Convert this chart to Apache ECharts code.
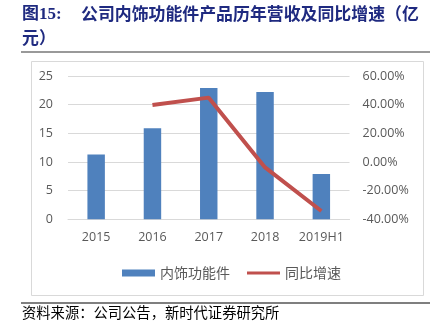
<!DOCTYPE html>
<html>
<head>
<meta charset="utf-8">
<style>
  html, body { margin: 0; padding: 0; background: #ffffff; }
  #chart { width: 435px; height: 336px; }
</style>
<script src="https://cdn.jsdelivr.net/npm/echarts@6/dist/echarts.min.js"></script>
</head>
<body>
<div id="chart"></div>
<script>
// Categories and values
var years = ['2015', '2016', '2017', '2018', '2019H1'];
var revenue = [11.3, 15.9, 22.9, 22.2, 7.9];          // 内饰功能件 营收（亿元）
var growth = [null, 39.8, 44.9, -3.8, -34.2];          // 同比增速（%）
var leftTicks = { min: 0, max: 25, interval: 5 };
var rightTicks = { min: -40, max: 60, interval: 20 };

var CJK = '"Noto Sans CJK SC", sans-serif';
var TICK_FONT = '"Open Sans", "Liberation Sans", sans-serif';

var chart = echarts.init(document.getElementById('chart'), null, { renderer: 'canvas' });

chart.setOption({
  animation: false,
  backgroundColor: '#ffffff',
  graphic: [
    // chart frame
    { type: 'rect', left: 29, top: 59, shape: { x: 0, y: 0, width: 392, height: 234 },
      style: { fill: 'none', stroke: '#d9d9d9', lineWidth: 1 }, z: -1 },
    // rule under the title
    { type: 'line', shape: { x1: 21, y1: 52, x2: 430, y2: 52 },
      style: { stroke: '#777777', lineWidth: 1.5 } },
    // rule above the source note
    { type: 'line', shape: { x1: 21, y1: 303, x2: 430, y2: 303 },
      style: { stroke: '#000000', lineWidth: 1.2 } },
    // title
    { type: 'text', left: 22, top: 6,
      style: { text: '图15:', fill: '#1F2A80',
        font: 'bold 17px "Liberation Serif", "Noto Sans CJK SC", serif' } },
    { type: 'text', left: 81, top: 5,
      style: { text: '公司内饰功能件产品历年营收及同比增速（亿', fill: '#1F2A80',
        font: 'bold 16.9px ' + CJK } },
    { type: 'text', left: 22, top: 29,
      style: { text: '元）', fill: '#1F2A80', font: 'bold 16.9px ' + CJK } },
    // source note
    { type: 'text', left: 22, top: 305,
      style: { text: '资料来源：公司公告，新时代证券研究所', fill: '#000000',
        font: '14.3px ' + CJK } }
  ],
  grid: { left: 68, right: 85.5, top: 76, bottom: 116.7 },
  legend: {
    top: 261,
    left: 117,
    itemGap: 17,
    textStyle: { color: '#595959', fontSize: 14, fontFamily: CJK },
    data: [
      { name: '内饰功能件', icon: 'rect', itemStyle: { color: '#4F81BD' } },
      { name: '同比增速', icon: 'path://M0,0 L34,0 L34,3 L0,3 Z',
        itemStyle: { color: '#C0504D', borderWidth: 0 } }
    ],
    itemWidth: 33,
    itemHeight: 7
  },
  xAxis: {
    type: 'category',
    data: years,
    axisLine: { show: true, lineStyle: { color: '#d9d9d9', width: 1 } },
    axisTick: { show: false },
    axisLabel: { color: '#595959', fontSize: 12.5, fontFamily: TICK_FONT, margin: 12, interval: 0 }
  },
  yAxis: [
    {
      type: 'value',
      min: leftTicks.min, max: leftTicks.max, interval: leftTicks.interval,
      axisLine: { show: false },
      axisTick: { show: false },
      splitLine: { lineStyle: { color: '#d9d9d9', width: 1 } },
      axisLabel: { color: '#595959', fontSize: 12.5, fontFamily: TICK_FONT, margin: 15 }
    },
    {
      type: 'value',
      min: rightTicks.min, max: rightTicks.max, interval: rightTicks.interval,
      axisLine: { show: false },
      axisTick: { show: false },
      splitLine: { show: false },
      axisLabel: {
        color: '#595959', fontSize: 12.5, fontFamily: TICK_FONT, margin: 13,
        formatter: function (v) { return v.toFixed(2) + '%'; }
      }
    }
  ],
  series: [
    {
      name: '内饰功能件',
      type: 'bar',
      data: revenue,
      yAxisIndex: 0,
      barWidth: '31%',
      itemStyle: { color: '#4F81BD' }
    },
    {
      name: '同比增速',
      type: 'line',
      data: growth,
      yAxisIndex: 1,
      symbol: 'none',
      lineStyle: { color: '#C0504D', width: 4, cap: 'butt' },
      itemStyle: { color: '#C0504D' }
    }
  ]
});
</script>
</body>
</html>
